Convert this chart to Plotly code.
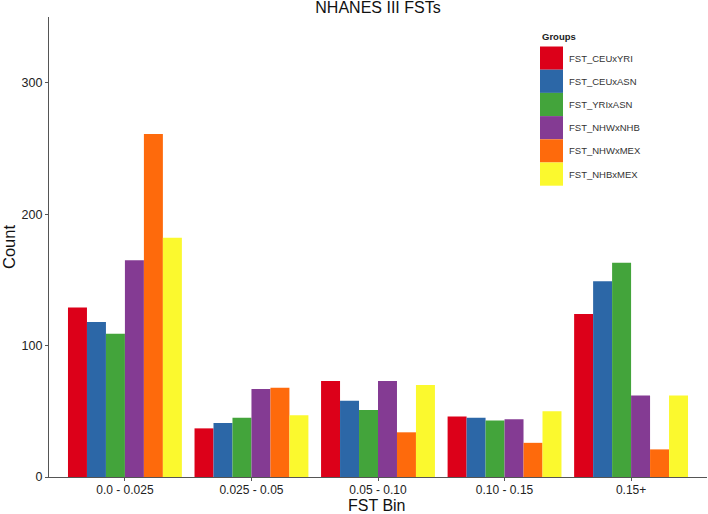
import plotly.graph_objects as go

categories = ["0.0 - 0.025", "0.025 - 0.05", "0.05 - 0.10", "0.10 - 0.15", "0.15+"]
groups = ["FST_CEUxYRI", "FST_CEUxASN", "FST_YRIxASN", "FST_NHWxNHB", "FST_NHWxMEX", "FST_NHBxMEX"]
colors = ["#DC0019", "#2C67A7", "#43A43B", "#843B93", "#FE6A0C", "#FBF92E"]

fst_ceu_yri = [129, 37, 73, 46, 124]
fst_ceu_asn = [118, 41, 58, 45, 149]
fst_yri_asn = [109, 45, 51, 43, 163]
fst_nhw_nhb = [165, 67, 73, 44, 62]
fst_nhw_mex = [261, 68, 34, 26, 21]
fst_nhb_mex = [182, 47, 70, 50, 62]
series = [fst_ceu_yri, fst_ceu_asn, fst_yri_asn, fst_nhw_nhb, fst_nhw_mex, fst_nhb_mex]

y_ticks = [0, 100, 200, 300]

FONT = "Liberation Sans, Arial, sans-serif"
W, H = 708, 514
PL, PT, PW, PH = 49, 17, 658, 460

fig = go.Figure()
for name, vals, col in zip(groups, series, colors):
    fig.add_trace(go.Bar(x=categories, y=vals, name=name, marker=dict(color=col, line=dict(width=0)),
                         showlegend=False))

# custom legend (large square keys as in reference)
lx0, ly0, key = 540, 46.5, 23.2
shapes = []
annotations = [dict(text="<b>Groups</b>", xref="paper", yref="paper",
                    x=(lx0 - PL) / PW, y=1 - (37 - PT) / PH, xanchor="left", yanchor="middle",
                    showarrow=False, font=dict(family=FONT, size=9.5, color="#222"))]
for i, (name, col) in enumerate(zip(groups, colors)):
    top = ly0 + i * key
    shapes.append(dict(type="rect", xref="paper", yref="paper",
                       x0=(lx0 - PL) / PW, x1=(lx0 + 23 - PL) / PW,
                       y0=1 - (top + key - PT) / PH, y1=1 - (top - PT) / PH,
                       fillcolor=col, line=dict(width=0), layer="above"))
    annotations.append(dict(text=name, xref="paper", yref="paper",
                            x=(lx0 + 27 - PL) / PW, y=1 - (top + key / 2 - PT) / PH,
                            xanchor="left", yanchor="middle", showarrow=False,
                            font=dict(family=FONT, size=9.5, color="#333")))

# x-axis title placed to match reference position
annotations.append(dict(text="FST Bin", xref="paper", yref="paper",
                        x=(377 - PL) / PW, y=1 - (505 - PT) / PH, xanchor="center", yanchor="middle",
                        showarrow=False, font=dict(family=FONT, size=16, color="#111")))

fig.update_layout(
    width=W, height=H,
    margin=dict(l=PL, r=W - PL - PW, t=PT, b=H - PT - PH, autoexpand=False),
    paper_bgcolor="white", plot_bgcolor="white",
    barmode="group", bargap=0.1, bargroupgap=0,
    font=dict(family=FONT, color="#222"),
    title=dict(text="NHANES III FSTs", x=378 / W, xanchor="center",
               y=1 - 7 / H, yanchor="middle", yref="container",
               font=dict(family=FONT, size=16, color="#111")),
    shapes=shapes, annotations=annotations,
    xaxis=dict(range=[-0.6, 4.6], showline=True, linecolor="#555", linewidth=1.3,
               ticks="outside", ticklen=3, tickcolor="#555", showgrid=False, automargin=False,
               ticklabelstandoff=-2,
               tickfont=dict(family=FONT, size=12, color="#222")),
    yaxis=dict(range=[0, 350], showline=True, linecolor="#555", linewidth=1.3,
               ticks="outside", ticklen=3, tickcolor="#555", showgrid=False, zeroline=False,
               automargin=False,
               tickvals=y_ticks, tickfont=dict(family=FONT, size=12.5, color="#222"),
               title=dict(text="Count", font=dict(family=FONT, size=16.5, color="#111"), standoff=4)),
)

fig.write_html("out.html", config={"displayModeBar": False},
               post_script="document.body.style.margin='0';document.body.style.overflow='hidden';")
